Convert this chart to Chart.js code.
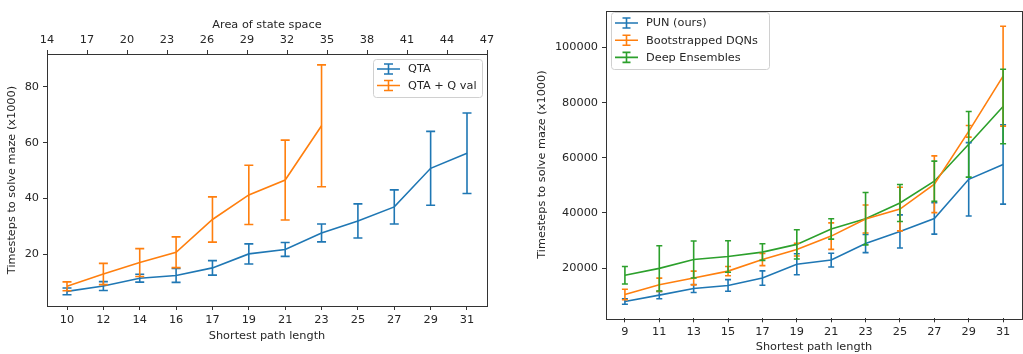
<!DOCTYPE html>
<html>
<head>
<meta charset="utf-8">
<script src="https://cdn.jsdelivr.net/npm/chart.js@4.4.0/dist/chart.umd.min.js"></script>
<style>
  body { margin: 0; background: #fff; }
  #c1 { position: absolute; left: 0; top: 0; }
  #c2 { position: absolute; left: 510px; top: 0; }
</style>
</head>
<body>
<canvas id="c1" width="510" height="354"></canvas>
<canvas id="c2" width="513" height="354"></canvas>
<script>
// left panel
const leftPathLen = ['10', '12', '14', '16', '17', '19', '21', '23', '25', '27', '29', '31'];
const areaTicks = [14, 17, 20, 23, 26, 29, 32, 35, 38, 41, 44, 47];
const leftYTicks = [20, 40, 60, 80];
const qtaMean = [6.8, 8.7, 11.5, 12.5, 15.2, 20.2, 21.8, 27.7, 32.0, 37.0, 50.8, 56.2];
const qtaErr = [1.2, 1.6, 1.4, 2.5, 2.6, 3.6, 2.5, 3.2, 6.1, 6.1, 13.2, 14.4];
const qvalMean = [8.6, 13.0, 17.1, 20.8, 32.5, 41.3, 46.6, 66.0];
const qvalErr = [1.6, 3.8, 5.0, 5.5, 8.1, 10.6, 14.3, 21.8];

// right panel
const rightPathLen = ['9', '11', '13', '15', '17', '19', '21', '23', '25', '27', '29', '31'];
const rightYTicks = [20000, 40000, 60000, 80000, 100000];
const punMean = [7900, 10200, 12600, 13700, 16400, 21400, 22900, 28900, 33300, 38000, 52200, 57600];
const punErr = [1000, 1300, 1450, 2100, 2600, 3800, 2500, 3300, 6000, 5700, 13300, 14400];
const bootMean = [10400, 13950, 16400, 18900, 23100, 26700, 31600, 37800, 41400, 50400, 69600, 89600];
const bootErr = [1900, 2400, 2500, 1700, 2200, 2300, 4800, 5100, 7900, 10300, 2100, 18100];
const deepMean = [17400, 19900, 23100, 24200, 25800, 28600, 34200, 37900, 43600, 51500, 64900, 78600];
const deepErr = [3200, 8200, 6700, 5700, 3000, 5300, 3700, 9500, 6700, 7300, 11900, 13500];

const BLUE = '#1f77b4', ORANGE = '#ff7f0e', GREEN = '#2ca02c';
const INK = '#262626';

Chart.defaults.font.family = 'DejaVu Sans';
Chart.defaults.font.size = 11.3;
Chart.defaults.color = INK;

function series(label, mean, err, color) {
  return {
    label: label,
    data: mean.map((v, i) => ({ x: i, y: v })),
    errors: err,
    borderColor: color,
    backgroundColor: color,
    borderWidth: 1.6,
    pointRadius: 0,
    tension: 0
  };
}

// error bars + caps, drawn with the y scale
const errorBars = {
  id: 'errorBars',
  afterDatasetsDraw(chart, args, opts) {
    const ctx = chart.ctx;
    const ys = chart.scales.y;
    chart.data.datasets.forEach((ds, di) => {
      const meta = chart.getDatasetMeta(di);
      ctx.save();
      ctx.strokeStyle = ds.borderColor;
      ctx.lineWidth = 1.6;
      meta.data.forEach((pt, i) => {
        const m = ds.data[i].y, e = ds.errors[i];
        const top = ys.getPixelForValue(m + e), bot = ys.getPixelForValue(m - e);
        ctx.beginPath();
        ctx.moveTo(pt.x, top); ctx.lineTo(pt.x, bot);
        ctx.moveTo(pt.x - opts.cap, top); ctx.lineTo(pt.x + opts.cap, top);
        ctx.moveTo(pt.x - opts.cap, bot); ctx.lineTo(pt.x + opts.cap, bot);
        ctx.stroke();
      });
      ctx.restore();
    });
  }
};

// frame round the plot area
const frame = {
  id: 'frame',
  afterDraw(chart) {
    const a = chart.chartArea, ctx = chart.ctx;
    ctx.save();
    ctx.strokeStyle = '#333';
    ctx.lineWidth = 1;
    ctx.strokeRect(Math.round(a.left) + 0.5, Math.round(a.top) + 0.5,
      Math.round(a.right - a.left), Math.round(a.bottom - a.top));
    ctx.restore();
  }
};

// matplotlib style legend box
const mplLegend = {
  id: 'mplLegend',
  afterDraw(chart, args, o) {
    const ctx = chart.ctx;
    ctx.save();
    ctx.fillStyle = 'rgba(255,255,255,0.85)';
    ctx.strokeStyle = '#d0d0d0';
    ctx.lineWidth = 1;
    ctx.beginPath();
    ctx.roundRect(o.x + 0.5, o.y + 0.5, o.w, o.h, 3);
    ctx.fill();
    ctx.stroke();
    ctx.font = '11.3px "DejaVu Sans"';
    ctx.textBaseline = 'middle';
    chart.data.datasets.forEach((ds, i) => {
      const cy = o.y + o.first + i * o.step;
      ctx.strokeStyle = ds.borderColor;
      ctx.lineWidth = 1.6;
      ctx.beginPath();
      ctx.moveTo(o.x + 4, cy); ctx.lineTo(o.x + 27, cy);
      const mx = o.x + 15.5;
      ctx.moveTo(mx, cy - 5); ctx.lineTo(mx, cy + 5);
      ctx.moveTo(mx - o.cap, cy - 5); ctx.lineTo(mx + o.cap, cy - 5);
      ctx.moveTo(mx - o.cap, cy + 5); ctx.lineTo(mx + o.cap, cy + 5);
      ctx.stroke();
      ctx.fillStyle = INK;
      ctx.fillText(ds.label, o.x + 35, cy + 0.5);
    });
    ctx.restore();
  }
};

function indexAxis(labels, height, pad, titlePad) {
  return {
    type: 'linear',
    position: 'bottom',
    min: -0.55,
    max: labels.length - 1 + 0.55,
    afterBuildTicks: s => { s.ticks = labels.map((_, i) => ({ value: i })); },
    afterFit: s => { s.height = height; },
    ticks: { callback: v => labels[v], autoSkip: false, maxRotation: 0, padding: pad, color: INK },
    grid: { drawOnChartArea: false, drawTicks: true, tickLength: 4, color: '#333' },
    border: { display: false },
    title: { display: true, text: 'Shortest path length', padding: { top: 0, bottom: titlePad }, color: INK }
  };
}

function valueAxis(min, max, ticks, width, titlePad) {
  return {
    type: 'linear',
    min: min,
    max: max,
    afterBuildTicks: s => { s.ticks = ticks.map(v => ({ value: v })); },
    afterFit: s => { s.width = width; },
    ticks: { padding: 4, color: INK, callback: v => String(v) },
    grid: { drawOnChartArea: false, drawTicks: true, tickLength: 4, color: '#333' },
    border: { display: false },
    title: { display: true, text: 'Timesteps to solve maze (x1000)', padding: { top: titlePad, bottom: 0 }, color: INK }
  };
}

new Chart(document.getElementById('c1'), {
  type: 'line',
  data: {
    datasets: [
      series('QTA', qtaMean, qtaErr, BLUE),
      series('QTA + Q val', qvalMean, qvalErr, ORANGE)
    ]
  },
  options: {
    responsive: false,
    animation: false,
    layout: { padding: { left: 0, right: 23, top: 0, bottom: 0 } },
    plugins: {
      legend: { display: false },
      tooltip: { enabled: false },
      errorBars: { cap: 4.5 },
      mplLegend: { x: 373, y: 59, w: 109, h: 38, first: 10, step: 16.5, cap: 4.5 }
    },
    scales: {
      x: indexAxis(leftPathLen, 48, 3, 11),
      x2: {
        type: 'linear',
        position: 'top',
        min: 14,
        max: 47,
        afterBuildTicks: s => { s.ticks = areaTicks.map(v => ({ value: v })); },
        afterFit: s => { s.height = 54; },
        ticks: { autoSkip: false, maxRotation: 0, padding: 3, color: INK, callback: v => String(v) },
        grid: { drawOnChartArea: false, drawTicks: true, tickLength: 4, color: '#333' },
        border: { display: false },
        title: { display: true, text: 'Area of state space', padding: { top: 18, bottom: 0 }, color: INK }
      },
      y: valueAxis(1.57, 91.68, leftYTicks, 47, 5)
    }
  },
  plugins: [errorBars, frame, mplLegend]
});

new Chart(document.getElementById('c2'), {
  type: 'line',
  data: {
    datasets: [
      series('PUN (ours)', punMean, punErr, BLUE),
      series('Bootstrapped DQNs', bootMean, bootErr, ORANGE),
      series('Deep Ensembles', deepMean, deepErr, GREEN)
    ]
  },
  options: {
    responsive: false,
    animation: false,
    layout: { padding: { left: 0, right: 1, top: 6, bottom: 0 } },
    plugins: {
      legend: { display: false },
      tooltip: { enabled: false },
      errorBars: { cap: 3 },
      mplLegend: { x: 101, y: 12, w: 158, h: 57, first: 11, step: 17.2, cap: 4 }
    },
    scales: {
      x: indexAxis(rightPathLen, 35.7, 3, 0),
      y: valueAxis(1786, 113320, rightYTicks, 96, 25)
    }
  },
  plugins: [errorBars, frame, mplLegend]
});
</script>
</body>
</html>
